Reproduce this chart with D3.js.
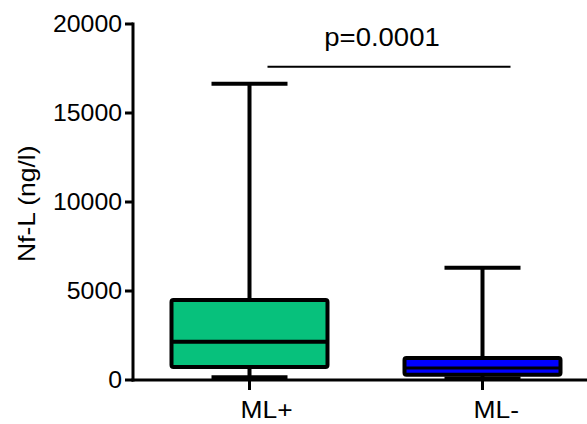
<!DOCTYPE html>
<html>
<head>
<meta charset="utf-8">
<script src="https://cdn.jsdelivr.net/npm/d3@7"></script>
<style>
  body { margin: 0; background: #fff; }
  text { font-family: "Liberation Sans", Arial, sans-serif; fill: #000; }
</style>
</head>
<body>
<svg id="chart" width="587" height="424"></svg>
<script>
// groups and their box stats (ng/l)
const groups = ['ML+', 'ML-'];
const mins = [150, 80];
const q1s = [730, 300];
const medians = [2150, 680];
const q3s = [4500, 1240];
const maxs = [16650, 6300];
const fills = ['#07c17c', '#0000ff'];
const yTicks = [0, 5000, 10000, 15000, 20000];
const pLabel = 'p=0.0001';
const pLevel = 17600;

const svg = d3.select('#chart');

const y = d3.scaleLinear().domain([0, 20000]).range([380, 24]);
const x = d3.scalePoint().domain(groups).range([133, 599]).padding(0.5);

const boxW = 156;
const capW = 76;

// text in the original is a bit wider than Arial
function wide(sel, px, py, sx, rot) {
    sel.attr('transform', 'translate(' + px + ',' + py + ')' + (rot ? ' rotate(' + rot + ')' : '') + ' scale(' + sx + ',1)');
}

// y axis
svg.append('line')
    .attr('x1', 133).attr('x2', 133)
    .attr('y1', y(20000) - 1.5).attr('y2', y(0) + 1.5)
    .attr('stroke', '#000').attr('stroke-width', 3);

svg.selectAll('line.ytick')
    .data(yTicks)
    .enter().append('line')
    .attr('class', 'ytick')
    .attr('x1', 125).attr('x2', 133)
    .attr('y1', d => y(d)).attr('y2', d => y(d))
    .attr('stroke', '#000').attr('stroke-width', 3);

svg.selectAll('text.ytick')
    .data(yTicks)
    .enter().append('text')
    .attr('class', 'ytick')
    .attr('transform', d => 'translate(122,' + (y(d) + 8) + ') scale(1.08,1)')
    .attr('text-anchor', 'end')
    .style('font-size', '23px')
    .text(d => d);

svg.append('text')
    .call(wide, 35, y(9900), 1.15, -90)
    .attr('text-anchor', 'middle')
    .style('font-size', '23px')
    .text('Nf-L (ng/l)');

// x axis
svg.append('line')
    .attr('x1', 131.5).attr('x2', 587)
    .attr('y1', y(0)).attr('y2', y(0))
    .attr('stroke', '#000').attr('stroke-width', 3);

let g = svg.selectAll('g.box')
    .data(groups)
    .enter().append('g')
    .attr('class', 'box');

g.append('line')
    .attr('x1', d => x(d)).attr('x2', d => x(d))
    .attr('y1', y(0)).attr('y2', y(0) + 10)
    .attr('stroke', '#000').attr('stroke-width', 3);

g.append('text')
    .attr('transform', d => 'translate(' + (x(d) - 9) + ',418) scale(1.1,1)')
    .style('font-size', '24px')
    .text(d => d);

// whiskers
g.append('line')
    .attr('x1', d => x(d)).attr('x2', d => x(d))
    .attr('y1', (d, i) => y(maxs[i])).attr('y2', (d, i) => y(mins[i]))
    .attr('stroke', '#000').attr('stroke-width', 4);

g.append('line')
    .attr('x1', d => x(d) - capW / 2).attr('x2', d => x(d) + capW / 2)
    .attr('y1', (d, i) => y(maxs[i])).attr('y2', (d, i) => y(maxs[i]))
    .attr('stroke', '#000').attr('stroke-width', 4);

g.append('line')
    .attr('x1', d => x(d) - capW / 2).attr('x2', d => x(d) + capW / 2)
    .attr('y1', (d, i) => y(mins[i])).attr('y2', (d, i) => y(mins[i]))
    .attr('stroke', '#000').attr('stroke-width', 4);

// boxes
g.append('rect')
    .attr('x', d => x(d) - boxW / 2)
    .attr('y', (d, i) => y(q3s[i]))
    .attr('width', boxW)
    .attr('height', (d, i) => y(q1s[i]) - y(q3s[i]))
    .attr('rx', 2)
    .attr('fill', (d, i) => fills[i])
    .attr('stroke', '#000').attr('stroke-width', 4);

g.append('line')
    .attr('x1', d => x(d) - boxW / 2).attr('x2', d => x(d) + boxW / 2)
    .attr('y1', (d, i) => y(medians[i])).attr('y2', (d, i) => y(medians[i]))
    .attr('stroke', '#000').attr('stroke-width', (d, i) => i === 0 ? 4 : 3);

// significance bar
svg.append('line')
    .attr('x1', x(groups[0]) + 18).attr('x2', x(groups[1]) + 28)
    .attr('y1', y(pLevel)).attr('y2', y(pLevel))
    .attr('stroke', '#000').attr('stroke-width', 2);

svg.append('text')
    .call(wide, 382, 46, 1.1, 0)
    .attr('text-anchor', 'middle')
    .style('font-size', '25px')
    .text(pLabel);
</script>
</body>
</html>
